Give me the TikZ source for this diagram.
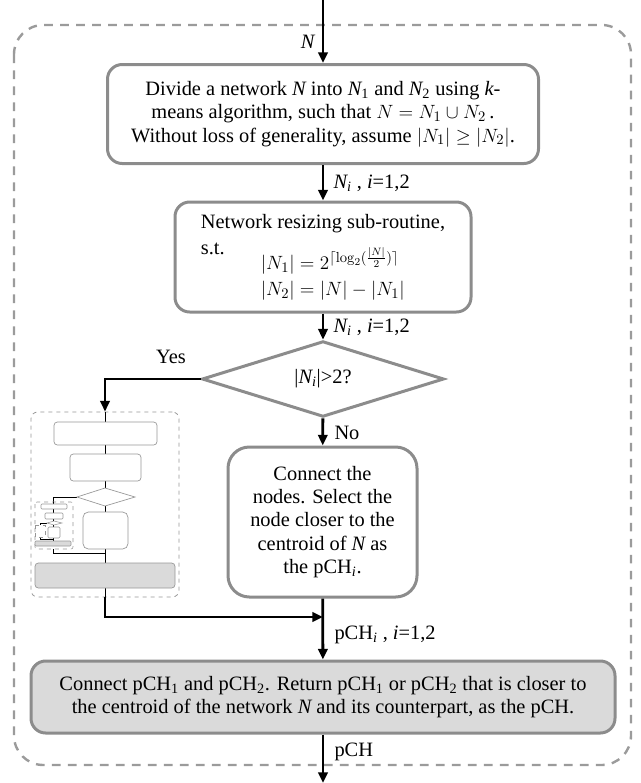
\documentclass[tikz,border=0pt]{standalone}
\usepackage[no-math]{fontspec}
\setmainfont{Liberation Serif}
\usetikzlibrary{shapes.geometric,arrows.meta}

\definecolor{boxgray}{RGB}{140,140,140}
\definecolor{framegray}{RGB}{155,155,155}
\definecolor{fillgray}{RGB}{218,218,218}
\definecolor{thingray}{RGB}{150,150,150}

\tikzset{every picture/.style={line width=0.75pt}}
\tikzset{
  procbox/.style={draw=boxgray, line width=2.25pt, rounded corners=11pt, align=center, inner sep=2pt, font=\fontsize{15.3}{17.5}\selectfont},
  decbox/.style={draw=boxgray, line width=2.25pt, diamond, inner sep=0pt, font=\fontsize{15.3}{17.5}\selectfont},
  flowarrow/.style={line width=2.1pt, -{Triangle[length=8pt,width=7pt]}},
  flowlabel/.style={inner sep=0.75pt, font=\fontsize{15.3}{17.5}\selectfont},
  thinbox/.style={draw=thingray, line width=0.5pt, rounded corners=2.5pt},
  thinline/.style={line width=0.6pt}
}

\begin{document}
\begin{tikzpicture}[x=0.75pt,y=0.75pt,yscale=-1,xscale=1]
\useasboundingbox (0,0) rectangle (641,783);

%Shape: Outer frame
\draw [framegray, line width=1.8pt, dash pattern=on 6.5pt off 5.5pt, rounded corners=22pt] (14,25) rectangle (631,765);

%Shape: Rounded Rect
\node (divide) at (323,114) [procbox, minimum width=323.25pt, minimum height=74.25pt] {Divide a network {\itshape N} into {\itshape N}\textsubscript{1} and {\itshape N}\textsubscript{2} using {\itshape k}-\\means algorithm, such that $N=N_1\cup N_2$\,.\\Without loss of generality, assume $|N_1|\geq|N_2|$.};
%Shape: Rounded Rect
\node (resize) at (323,257) [procbox, align=left, minimum width=222pt, minimum height=82.5pt] {Network resizing sub-routine,\\[2pt]s.t.\\[-6pt]\hspace*{45pt}$|N_1|=2^{\lceil\log_2(\frac{|N|}{2})\rceil}$\\[2pt]\hspace*{45pt}$|N_2|=|N|-|N_1|$};
%Shape: Diamond
\node (check) at (323,379) [decbox, minimum width=181.5pt, minimum height=54.75pt] {|{\itshape N}\textsubscript{\itshape i}|>2?};
%Shape: Rounded Rect
\node (select) at (322.5,522) [procbox, rounded corners=16pt, minimum width=141.75pt, minimum height=112.5pt] {Connect the\\nodes. Select the\\node closer to the\\centroid of {\itshape N} as\\the pCH\textsubscript{\itshape i}.};
%Shape: Rounded Rect
\node (merge) at (323,697) [procbox, fill=fillgray, minimum width=438pt, minimum height=54pt] {Connect pCH\textsubscript{1} and pCH\textsubscript{2}. Return pCH\textsubscript{1} or pCH\textsubscript{2} that is closer to\\the centroid of the network {\itshape N} and its counterpart, as the pCH.};

%Shape: Thumbnail frame
\node (thumb) at (105,504.5) [draw=thingray, line width=0.6pt, dashed, rounded corners=5pt, minimum width=111pt, minimum height=138.75pt, inner sep=0pt] {};
% thumbnail skeleton
\draw [thinline] (105,412) -- (105,422) (105,445) -- (105,454) (105,481) -- (105,488) (105,506) -- (105,512) (105,549) -- (105,563) (105,588) -- (105,597);
\draw [thinline] (77,497) -- (53,497) -- (53,502) (53,549) -- (53,553) -- (105,553);
\draw [thinbox] (54,422) rectangle (157,445);
\draw [thinbox] (70,454) rectangle (141,481);
\draw [draw=thingray, line width=0.5pt] (77,497) -- (105,488) -- (135,497) -- (105,506) -- cycle;
\draw [thinbox, rounded corners=4pt] (83,512) rectangle (128,549);
\draw [thinbox, fill=fillgray] (35,563) rectangle (175,588);
% nested thumbnail
\draw [draw=thingray, line width=0.4pt, dashed, rounded corners=1.5pt] (35,502) rectangle (73,549);
\draw [line width=0.4pt] (53,502) -- (53,504) (53,509) -- (53,513) (53,519) -- (53,521) (53,525) -- (53,527) (53,538) -- (53,541);
\draw [line width=0.4pt] (47,523) -- (40,523) -- (40,525) (40,537) -- (40,539) -- (53,539);
\draw [thinbox, line width=0.4pt, rounded corners=0.8pt] (41,504) rectangle (67,509);
\draw [thinbox, line width=0.4pt, rounded corners=0.8pt] (45,513) rectangle (63,519);
\draw [draw=thingray, line width=0.4pt] (47,523) -- (54,521) -- (62,523) -- (54,525) -- cycle;
\draw [thinbox, line width=0.4pt, rounded corners=1pt] (48,527) rectangle (60,538);
\draw [draw=thingray, line width=0.4pt, dashed] (35,525) rectangle (45,537);
\draw [thinbox, line width=0.4pt, rounded corners=0.8pt, fill=fillgray] (35,541) rectangle (71,546);

% Connectors
\coordinate (in) at (323,0);
\coordinate (join) at (323,617);
\coordinate (out) at (323,783);
\draw [flowarrow] (in) -- (divide);
\draw [flowarrow] (divide) -- (resize);
\draw [flowarrow] (resize) -- (check);
\draw [flowarrow] (check) -- (select);
\draw [flowarrow] (check.west) -| (thumb.north);
\draw [flowarrow] (thumb.south) |- (join);
\draw [flowarrow] (select) -- (merge);
\draw [flowarrow] (merge) -- (out);

% Text Node
\node (lblin) at (316,42) [flowlabel, anchor=east] {{\itshape N}};
% Text Node
\node (lblsplit) at (332,183) [flowlabel, anchor=west] {{\itshape N}\textsubscript{\itshape i} , {\itshape i}=1,2};
% Text Node
\node (lblresize) at (332,327) [flowlabel, anchor=west] {{\itshape N}\textsubscript{\itshape i} , {\itshape i}=1,2};
% Text Node
\node (lblyes) at (171,357) [flowlabel] {Yes};
% Text Node
\node (lblno) at (333,433) [flowlabel, anchor=west] {No};
% Text Node
\node (lblpch) at (333,635) [flowlabel, anchor=west] {pCH\textsubscript{\itshape i} , {\itshape i}=1,2};
% Text Node
\node (lblout) at (333,752) [flowlabel, anchor=west] {pCH};

\end{tikzpicture}
\end{document}
